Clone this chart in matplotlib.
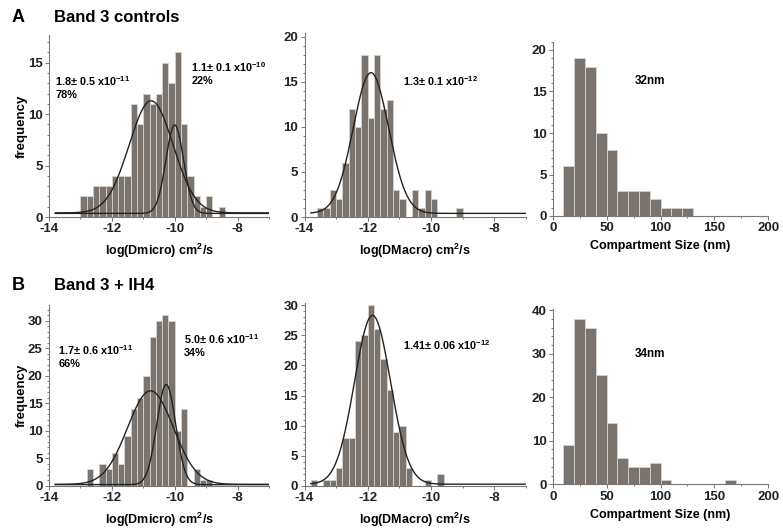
import numpy as np
import matplotlib
matplotlib.use('Agg')
import matplotlib.pyplot as plt
from matplotlib.ticker import MultipleLocator

plt.rcParams['font.family'] = ['Liberation Sans', 'DejaVu Sans']
plt.rcParams['font.weight'] = 'bold'
plt.rcParams['mathtext.fontset'] = 'custom'
plt.rcParams['mathtext.rm'] = 'Liberation Sans:bold'
plt.rcParams['mathtext.bf'] = 'Liberation Sans:bold'
plt.rcParams['mathtext.default'] = 'rm'

# --- data
bin_w = 0.2
# A: Band 3 controls
a_micro_start = -13.0
a_micro_counts = [2, 2, 3, 3, 3, 4, 4, 4, 11, 9, 12, 11, 12, 15, 13, 16,
                  9, 4, 2, 1, 2, 0, 1]
a_macro_start = -13.6
a_macro_counts = [1, 1, 3, 2, 6, 12, 10, 18, 11, 18, 12, 13, 3, 2, 0, 3,
                  1, 3, 2, 0, 0, 0, 1]
a_size_bins = [10, 20, 30, 40, 50, 60, 70, 80, 90, 100, 110, 120]
a_size_counts = [6, 19, 18, 10, 8, 3, 3, 3, 2, 1, 1, 1]

# B: Band 3 + IH4
b_micro_start = -13.0
b_micro_counts = [0, 3, 0, 4, 3, 6, 4, 9, 14, 16, 20, 27, 30, 31, 30, 10,
                  14, 0, 3, 1, 1]
b_macro_start = -13.8
b_macro_counts = [1, 0, 1, 1, 3, 8, 8, 24, 25, 30, 26, 21, 16, 9, 10, 3,
                  0, 0, 1, 0, 2]
b_size_bins = [10, 20, 30, 40, 50, 60, 70, 80, 90, 100, 160]
b_size_counts = [9, 38, 36, 25, 14, 6, 4, 4, 5, 1, 1]

# gaussian fits: (y0, xc, sigma, amplitude)
a_micro_fits = [(0.4, -10.75, 0.70, 10.9), (0.35, -10.0, 0.28, 8.6)]
a_macro_fits = [(0.4, -11.9, 0.56, 15.6)]
b_micro_fits = [(0.3, -10.77, 0.73, 17.0), (0.25, -10.27, 0.30, 18.2)]
b_macro_fits = [(0.3, -11.85, 0.57, 28.0)]

W, H = 783, 531
fig = plt.figure(figsize=(W / 100, H / 100), dpi=100)


def add_ax(left, right, top, bottom):
    return fig.add_axes([left / W, 1 - bottom / H, (right - left) / W, (bottom - top) / H])


bar_fc = '#7b736d'
bar_ec = '#d6d2ce'
axis_c = '#777777'


def style(ax):
    for s in ['top', 'right']:
        ax.spines[s].set_visible(False)
    for s in ['left', 'bottom']:
        ax.spines[s].set_color(axis_c)
        ax.spines[s].set_linewidth(0.8)
    ax.tick_params(which='both', direction='out', colors=axis_c,
                   labelcolor='#222222', labelsize=9.5, width=0.7, pad=1.5)
    ax.tick_params(which='major', length=3)
    ax.tick_params(which='minor', length=1.5)
    for lab in ax.get_xticklabels() + ax.get_yticklabels():
        lab.set_fontweight('bold')


def log_hist(ax, start, counts, fits, ymax, ystep, xlabel):
    edges = [start + bin_w * i for i in range(len(counts))]
    ax.bar(edges, counts, width=bin_w, align='edge', color=bar_fc,
           edgecolor=bar_ec, linewidth=0.6)
    xs = np.linspace(-13.8, -7.0, 400)
    for y0, xc, sd, amp in fits:
        ax.plot(xs, y0 + amp * np.exp(-0.5 * ((xs - xc) / sd) ** 2),
                color='#222222', lw=1.0)
    ax.set_xlim(-14, -7)
    ax.set_ylim(0, ymax)
    ax.xaxis.set_minor_locator(MultipleLocator(1))
    ax.yaxis.set_major_locator(MultipleLocator(ystep))
    ax.yaxis.set_minor_locator(MultipleLocator(ystep / 5))
    ax.set_xticks([-14, -12, -10, -8])
    ax.set_xticklabels(['-14', '-12', '-10', '-8'])
    style(ax)
    ax.set_xlabel(xlabel, fontsize=9, fontweight='bold', labelpad=4.5)


def size_hist(ax, bins, counts, ymax, ystep, note, note_y):
    ax.bar(bins, counts, width=10, align='edge', color=bar_fc,
           edgecolor=bar_ec, linewidth=0.6)
    ax.set_xlim(0, 200)
    ax.set_ylim(0, ymax)
    ax.xaxis.set_major_locator(MultipleLocator(50))
    ax.xaxis.set_minor_locator(MultipleLocator(25))
    ax.yaxis.set_major_locator(MultipleLocator(ystep))
    ax.yaxis.set_minor_locator(MultipleLocator(ystep / 5))
    style(ax)
    ax.set_xlabel('Compartment Size (nm)', fontsize=9, fontweight='bold', labelpad=4.5)
    ax.text(90, note_y, note, fontsize=8.5, fontweight='bold', ha='center', va='center')


note_kw = dict(fontsize=7.8, fontweight='bold', va='center', linespacing=1.25)

# --- row A
ax1 = add_ax(49, 269, 35, 217)
log_hist(ax1, a_micro_start, a_micro_counts, a_micro_fits, 17.7, 5,
         'log(Dmicro) cm$^2$/s')
ax1.set_ylabel('frequency', fontsize=9.5, fontweight='bold')
ax1.yaxis.set_label_coords(-0.095, 0.5)
ax1.text(-13.8, 12.6, '1.8± 0.5 x10$^{-11}$\n78%', **note_kw)
ax1.text(-9.47, 14.0, '1.1± 0.1 x10$^{-10}$\n22%', **note_kw)

ax2 = add_ax(304.5, 526, 33, 217)
log_hist(ax2, a_macro_start, a_macro_counts, a_macro_fits, 20.4, 5,
         'log(DMacro) cm$^2$/s')
ax2.text(-10.9, 15.1, '1.3± 0.1 x10$^{-12}$', **note_kw)

ax3 = add_ax(552.7, 768.3, 41.7, 216)
size_hist(ax3, a_size_bins, a_size_counts, 21, 5, '32nm', 16.3)

# --- row B
ax4 = add_ax(49, 269, 305, 486)
log_hist(ax4, b_micro_start, b_micro_counts, b_micro_fits, 32.9, 5,
         'log(Dmicro) cm$^2$/s')
ax4.set_ylabel('frequency', fontsize=9.5, fontweight='bold')
ax4.yaxis.set_label_coords(-0.095, 0.5)
ax4.text(-13.7, 23.6, '1.7± 0.6 x10$^{-11}$\n66%', **note_kw)
ax4.text(-9.71, 25.6, '5.0± 0.6 x10$^{-11}$\n34%', **note_kw)

ax5 = add_ax(304.5, 526, 303.3, 486)
log_hist(ax5, b_macro_start, b_macro_counts, b_macro_fits, 30.3, 5,
         'log(DMacro) cm$^2$/s')
ax5.text(-10.88, 23.4, '1.41± 0.06 x10$^{-12}$', **note_kw)

ax6 = add_ax(552.7, 768.3, 309.3, 484.3)
size_hist(ax6, b_size_bins, b_size_counts, 40.2, 10, '34nm', 30)

# panel headings
fig.text(12 / W, 1 - 17 / H, 'A', fontsize=13, fontweight='bold', va='center')
fig.text(54 / W, 1 - 17 / H, 'Band 3 controls', fontsize=12, fontweight='bold', va='center')
fig.text(12 / W, 1 - 286 / H, 'B', fontsize=13, fontweight='bold', va='center')
fig.text(54 / W, 1 - 286 / H, 'Band 3 + IH4', fontsize=12, fontweight='bold', va='center')

fig.savefig('out.png', dpi=100)
